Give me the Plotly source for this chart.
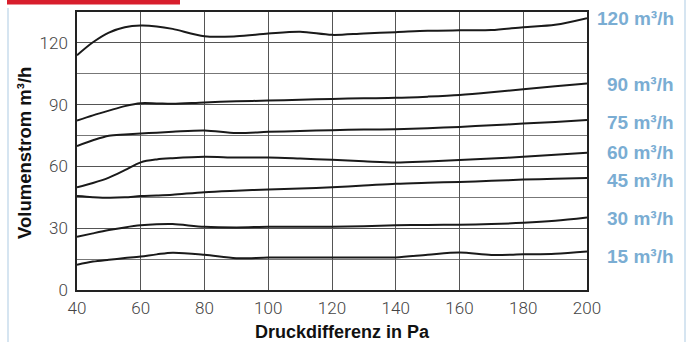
import plotly.graph_objects as go

# Data
pressure = [40, 45, 50, 55, 60, 65, 70, 80, 90, 100, 110, 120, 130, 140, 150, 160, 170, 180, 190, 200]
flow_120 = [114.0, 120.3, 125.0, 127.6, 128.4, 128.0, 126.8, 123.2, 123.2, 124.5, 125.4, 123.9, 124.6, 125.2, 125.9, 126.1, 126.2, 127.6, 128.8, 132.0]
flow_90 = [82.3, 84.8, 87.1, 89.3, 90.7, 90.6, 90.4, 91.1, 91.6, 92.0, 92.4, 92.8, 93.1, 93.3, 93.9, 94.7, 96.0, 97.5, 98.9, 100.3]
flow_75 = [69.9, 72.7, 74.9, 75.5, 76.0, 76.4, 76.8, 77.5, 76.2, 76.8, 77.2, 77.6, 77.9, 78.1, 78.6, 79.2, 80.0, 80.8, 81.6, 82.5]
flow_60 = [49.9, 52.0, 54.6, 58.2, 62.0, 63.4, 64.0, 64.7, 64.3, 64.3, 63.8, 63.2, 62.5, 61.9, 62.4, 63.1, 63.8, 64.7, 65.7, 66.7]
flow_45 = [45.6, 45.1, 44.8, 45.0, 45.6, 45.9, 46.3, 47.5, 48.2, 48.8, 49.3, 49.9, 50.7, 51.6, 52.1, 52.5, 53.0, 53.6, 54.0, 54.4]
flow_30 = [25.8, 27.5, 29.1, 30.4, 31.4, 31.9, 32.0, 30.7, 30.4, 30.7, 30.7, 30.7, 31.0, 31.4, 31.6, 31.7, 32.0, 32.6, 33.6, 35.2]
flow_15 = [12.3, 13.8, 14.7, 15.5, 16.3, 17.3, 18.1, 17.1, 15.4, 15.8, 15.8, 15.8, 15.8, 15.8, 17.1, 18.2, 17.0, 17.3, 17.6, 18.7]

series = [flow_120, flow_90, flow_75, flow_60, flow_45, flow_30, flow_15]
series_labels = ["120 m³/h", "90 m³/h", "75 m³/h", "60 m³/h", "45 m³/h", "30 m³/h", "15 m³/h"]
label_y = [131.9, 99.8, 81.4, 67.0, 53.1, 34.8, 16.3]

x_ticks = [40, 60, 80, 100, 120, 140, 160, 180, 200]
y_ticks = [0, 30, 60, 90, 120]

fig = go.Figure()
for ys, name in zip(series, series_labels):
    fig.add_trace(go.Scatter(
        x=pressure, y=ys, mode="lines", name=name,
        line=dict(color="#1a1a1a", width=2, shape="spline", smoothing=0.9),
        showlegend=False, hoverinfo="skip",
    ))

W, H = 689, 342
ml, mr, mt, mb = 77, 102, 10, 52
pw, ph = W - ml - mr, H - mt - mb

def px_x(p):
    return (p - ml) / pw

def px_y(p):
    return (H - mb - p) / ph

annotations = []
for name, yv in zip(series_labels, label_y):
    annotations.append(dict(
        x=px_x(676), xref="paper", y=yv, yref="y", text=name, showarrow=False,
        xanchor="right", yanchor="middle",
        font=dict(family="Liberation Sans, Arial", size=19, color="#7aadd3", weight="bold"),
    ))

annotations.append(dict(
    x=px_x(342), xref="paper", y=px_y(332), yref="paper", text="Druckdifferenz in Pa",
    showarrow=False, xanchor="center", yanchor="middle",
    font=dict(family="Liberation Sans, Arial", size=18, color="#111111", weight="bold"),
))
annotations.append(dict(
    x=px_x(25), xref="paper", y=px_y(152), yref="paper", text="Volumenstrom m³/h",
    showarrow=False, xanchor="center", yanchor="middle", textangle=-90,
    font=dict(family="Liberation Sans, Arial", size=18.5, color="#111111", weight="bold"),
))

shapes = [
    dict(type="rect", xref="paper", yref="paper", x0=px_x(7), x1=px_x(180),
         y0=px_y(2.5), y1=px_y(-2), fillcolor="#d81e2c", line=dict(width=0), layer="above"),
    dict(type="line", xref="paper", yref="paper", x0=px_x(8), x1=px_x(8),
         y0=px_y(6), y1=px_y(345), line=dict(color="#c9dcec", width=1.5)),
    dict(type="line", xref="paper", yref="paper", x0=px_x(685), x1=px_x(685),
         y0=px_y(-3), y1=px_y(345), line=dict(color="#c9dcec", width=1.5)),
]

tick_font = dict(family="Roboto, Liberation Sans", size=17, color="#444444", weight=300)

fig.update_layout(
    width=W, height=H,
    margin=dict(l=ml, r=mr, t=mt, b=mb, pad=0),
    paper_bgcolor="white", plot_bgcolor="white",
    annotations=annotations, shapes=shapes,
    xaxis=dict(
        range=[40, 200], tickvals=x_ticks, ticktext=[str(v) for v in x_ticks],
        showgrid=True, gridcolor="#555555", gridwidth=1.2,
        showline=True, linecolor="#222222", linewidth=1.5, mirror=True,
        zeroline=False, ticks="", tickfont=tick_font, ticklabelstandoff=2,
        fixedrange=True,
    ),
    yaxis=dict(
        range=[0, 135], tickvals=y_ticks, ticktext=[str(v) for v in y_ticks],
        showgrid=True, gridcolor="#555555", gridwidth=1.2,
        minor=dict(tick0=0, dtick=15, showgrid=True, gridcolor="#777777", gridwidth=1.2),
        showline=True, linecolor="#222222", linewidth=1.5, mirror=True,
        zeroline=False, ticks="", tickfont=tick_font, ticklabelstandoff=4,
        fixedrange=True,
    ),
)

fig.write_html(
    "out.html",
    config={"displayModeBar": False},
    post_script="document.body.style.margin='0';document.body.style.overflow='hidden';",
)
